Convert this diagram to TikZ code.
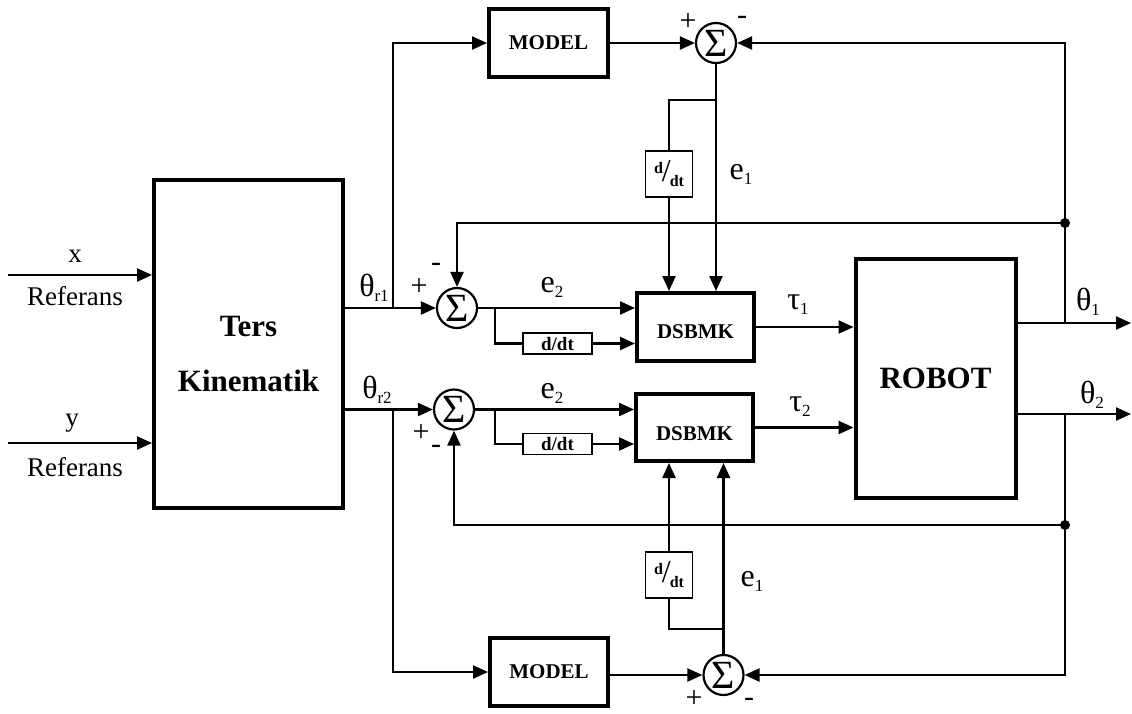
\documentclass[tikz,border=0pt]{standalone}
\usepackage{fontspec}
\setmainfont{Liberation Serif}
\usetikzlibrary{arrows.meta,calc}
\newcommand{\lidx}[1]{\raisebox{-5pt}{\fontsize{17}{17}\selectfont #1}}
\newcommand{\ddtfrac}{\raisebox{8pt}{\fontsize{16}{16}\selectfont d}\kern-1pt{\fontsize{32}{32}\selectfont\mdseries/}\kern-1pt\raisebox{-5pt}{\fontsize{16}{16}\selectfont dt}}
\tikzset{
  block/.style={draw=black,line width=4pt,inner sep=0pt,align=center,font=\fontsize{21}{24}\selectfont\bfseries},
  bigblock/.style={block,font=\fontsize{31}{55}\selectfont\bfseries},
  diffbox/.style={draw=black,line width=1.8pt,inner sep=0pt,font=\fontsize{19}{20}\selectfont\bfseries},
  sumnode/.style={circle,draw=black,line width=2.2pt,minimum size=40pt,inner sep=0pt,font=\fontsize{40}{40}\selectfont},
  flow/.style={-{Triangle[length=15pt,width=13pt]},line width=2.3pt,draw=black},
  wire/.style={line width=2.3pt,draw=black},
  lbl/.style={font=\fontsize{32}{34}\selectfont,inner sep=0pt},
  inlbl/.style={font=\fontsize{27}{30}\selectfont,inner sep=0pt},
  sgn/.style={font=\fontsize{30}{30}\selectfont,inner sep=0pt}
}
\begin{document}
\begin{tikzpicture}[x=1pt,y=-1pt]
\useasboundingbox (0,0) rectangle (1132,713);
% bloklar
\node[bigblock,minimum width=189pt,minimum height=328pt] (ters) at (248.5,344) {\rule{0pt}{41pt}Ters\\Kinematik};
\node[bigblock,minimum width=160pt,minimum height=239pt] (robot) at (935.5,378.5) {ROBOT};
\node[block,minimum width=119pt,minimum height=68pt] (model1) at (548.5,43) {MODEL};
\node[block,minimum width=118pt,minimum height=68pt] (model2) at (549,672) {MODEL};
\node[block,minimum width=117pt,minimum height=68pt] (dsbmk1) at (695.5,327) {\rule{0pt}{24pt}DSBMK};
\node[block,minimum width=117pt,minimum height=67pt] (dsbmk2) at (694.5,427.5) {\rule{0pt}{26pt}DSBMK};
\node[diffbox,minimum width=69pt,minimum height=21pt] (d1) at (557.5,343.5) {d/dt};
\node[diffbox,minimum width=69pt,minimum height=21pt] (d2) at (557.5,444) {d/dt};
\node[diffbox,minimum width=47pt,minimum height=46pt] (dt1) at (669,174) {\ddtfrac};
\node[diffbox,minimum width=47pt,minimum height=46pt] (dt2) at (669,575) {\ddtfrac};
\node[sumnode] (s1) at (457,308) {Σ};
\node[sumnode] (s2) at (454,409.5) {Σ};
\node[sumnode] (s3) at (716,43) {Σ};
\node[sumnode] (s4) at (723.5,675) {Σ};

% dallanma noktalari
\coordinate (xin) at (8,275);
\coordinate (yin) at (8,443);
\coordinate (b1) at (393,308);
\coordinate (b2) at (393,409.5);
\coordinate (c1) at (495,308);
\coordinate (c2) at (495,409.5);
\coordinate (t1) at (716,100);
\coordinate (t2) at (723.5,629);
\coordinate (o1) at (1131,323);
\coordinate (o2) at (1131,414);
\coordinate (f1) at (1065,323);
\coordinate (f2) at (1065,414);
\coordinate (j1) at (1065,223);
\coordinate (j2) at (1065,525);

\draw[flow] (xin) -- (xin -| ters.west);
\draw[flow] (yin) -- (yin -| ters.west);
\draw[flow] (s1 -| ters.east) -- (s1.west);
\draw[flow] (s2 -| ters.east) -- (s2.west);
\draw[flow] (b1) |- (model1.west);
\draw[flow] (b2) |- (model2.west);
\draw[flow] (model1.east |- s3) -- (s3.west);
\draw[flow] (model2.east |- s4) -- (s4.west);
\draw[flow] (s1.east) -- (s1.east -| dsbmk1.west);
\draw[flow] (s2.east) -- (s2.east -| dsbmk2.west);
\draw[wire] (c1) |- (d1.west);
\draw[wire] (c2) |- (d2.west);
\draw[flow] (d1.east) -- (d1.east -| dsbmk1.west);
\draw[flow] (d2.east) -- (d2.east -| dsbmk2.west);
\draw[flow] (s3.south) -- (s3.south |- dsbmk1.north);
\draw[wire] (t1) -| (dt1.north);
\draw[flow] (dt1.south) -- (dt1.south |- dsbmk1.north);
\draw[flow] (s4.north) -- (s4.north |- dsbmk2.south);
\draw[wire] (t2) -| (dt2.south);
\draw[flow] (dt2.north) -- (dt2.north |- dsbmk2.south);
\draw[flow] (dsbmk1.east) -- (dsbmk1.east -| robot.west);
\draw[flow] (dsbmk2.east) -- (dsbmk2.east -| robot.west);
\draw[flow] (robot.east |- o1) -- (o1);
\draw[flow] (robot.east |- o2) -- (o2);
\draw[flow] (f1) |- (s3.east);
\draw[flow] (f2) |- (s4.east);
\draw[flow] (j1) -| (s1.north);
\draw[flow] (j2) -| (s2.south);
\fill (j1) circle (5pt);
\fill (j2) circle (5pt);

% etiketler
\node[inlbl] (lx) at (75,256) {x};
\node[inlbl] (rx) at (75,296) {Referans};
\node[inlbl] (ly) at (72,423) {y};
\node[inlbl] (ry) at (75,467) {Referans};
\node[lbl] (tr1) at (374,288) {θ\lidx{r1}};
\node[lbl] (tr2) at (377,390) {θ\lidx{r2}};
\node[lbl] (le2a) at (552,287) {e\lidx{2}};
\node[lbl] (le2b) at (552,393) {e\lidx{2}};
\node[lbl] (le1a) at (741,174) {e\lidx{1}};
\node[lbl] (le1b) at (752,581) {e\lidx{1}};
\node[lbl] (tau1) at (798,305) {τ\lidx{1}};
\node[lbl] (tau2) at (800,407) {τ\lidx{2}};
\node[lbl] (th1) at (1088,302) {θ\lidx{1}};
\node[lbl] (th2) at (1092,395) {θ\lidx{2}};
\node[sgn] at (419,287) {+};
\node[sgn] at (436,267) {-};
\node[sgn] at (421,433) {+};
\node[sgn] at (436,449) {-};
\node[sgn] at (688,22) {+};
\node[sgn] at (742,20) {-};
\node[sgn] at (694,699) {+};
\node[sgn] at (749,702) {-};
\end{tikzpicture}
\end{document}
